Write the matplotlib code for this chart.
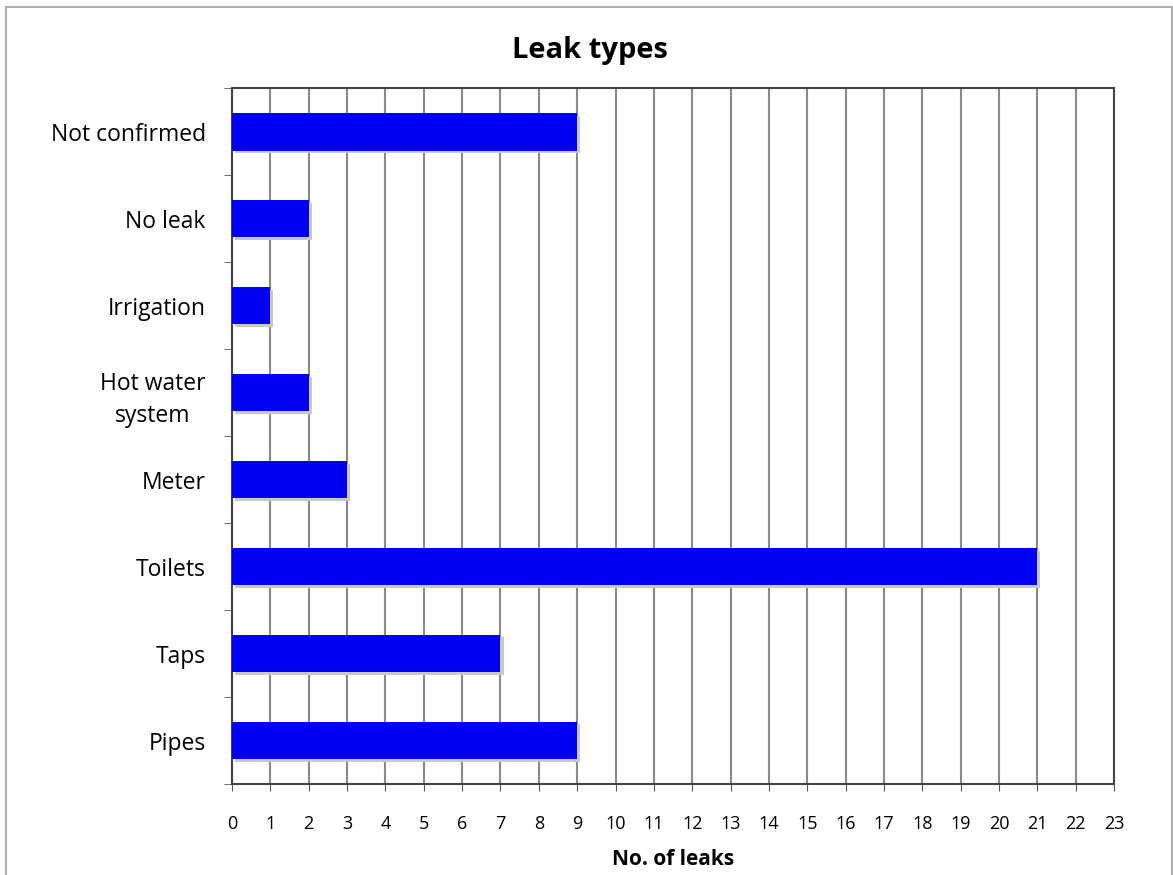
import matplotlib.pyplot as plt
import numpy as np

categories = ["Pipes", "Taps", "Toilets", "Meter", "Hot water\nsystem",
              "Irrigation", "No leak", "Not confirmed"]
leaks = [9, 7, 21, 3, 2, 1, 2, 9]

plt.rcParams['font.family'] = ['Open Sans', 'DejaVu Sans']

fig = plt.figure(figsize=(11.73, 8.75), dpi=100)
ax = fig.add_axes([0.1978, 0.104, 0.752, 0.795])

y = np.arange(len(categories))
# soft shadow behind bars
ax.barh(y - 0.03, leaks, height=0.43, left=0.08, color='#c8c8c8', zorder=2)
ax.barh(y, leaks, height=0.43, color='#0000f5', zorder=3)

ax.set_xlim(0, 23)
ax.set_ylim(-0.5, len(categories) - 0.5)
ax.set_xticks(range(0, 24))
ax.set_yticks(y)
ax.set_yticklabels(categories, fontsize=16.5, linespacing=1.45,
                   multialignment='center')
ax.tick_params(axis='y', length=0, pad=19)
ax.set_yticks(np.arange(-0.5, len(categories), 1), minor=True)
ax.tick_params(axis='y', which='minor', length=6, color='#555555')
ax.tick_params(axis='x', length=5, color='#555555', labelsize=13, pad=17)

ax.grid(axis='x', color='#8a8a8a', linewidth=1.5, zorder=1)
ax.set_axisbelow(True)
for s in ax.spines.values():
    s.set_color('#444444')
    s.set_linewidth(1.5)

fig.text(0.503, 0.942, "Leak types", fontsize=21, fontweight='bold',
         ha='center', va='center')
ax.set_xlabel("No. of leaks", fontsize=15, fontweight='bold', labelpad=12)

# outer chart border
fig.patches.append(plt.Rectangle((0.005, -0.01), 0.994, 1.002, transform=fig.transFigure,
                                 fill=False, edgecolor='#b0b0b0', linewidth=1.5))

fig.savefig("out.png", dpi=100)
